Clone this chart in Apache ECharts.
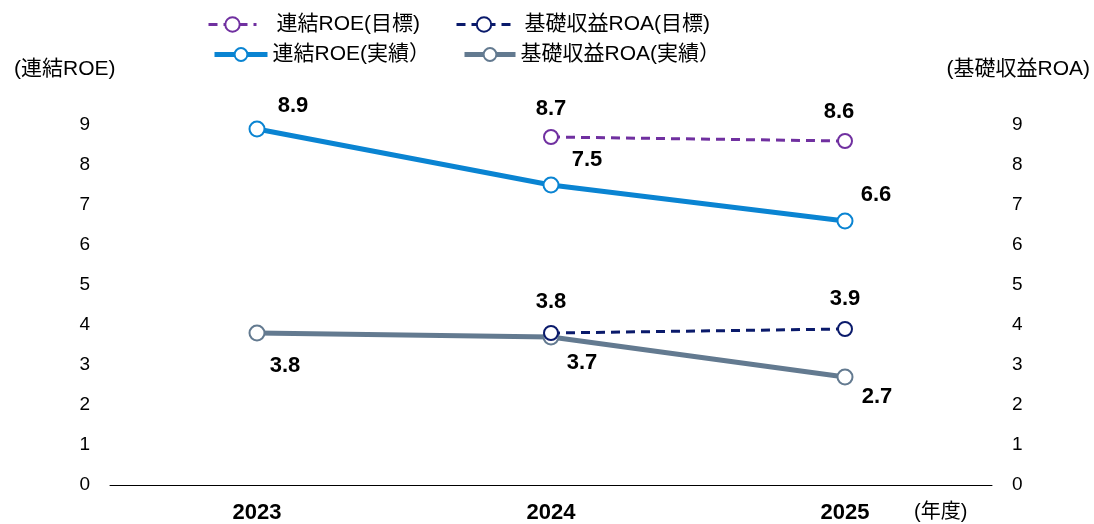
<!DOCTYPE html>
<html>
<head>
<meta charset="utf-8">
<script src="https://cdn.jsdelivr.net/npm/echarts@6/dist/echarts.min.js"></script>
<style>
html,body{margin:0;padding:0;background:#fff;}
#main{width:1094px;height:524px;}
</style>
</head>
<body>
<div id="main"></div>
<script>
const years = ['2023', '2024', '2025'];
const yTicks = [0, 1, 2, 3, 4, 5, 6, 7, 8, 9];
const roeTarget = [null, 8.7, 8.6];
const roaTarget = [null, 3.8, 3.9];
const roeActual = [8.9, 7.5, 6.6];
const roaActual = [3.8, 3.7, 2.7];
const names = ['連結ROE(目標)', '基礎収益ROA(目標)', '連結ROE(実績）', '基礎収益ROA(実績）'];

const FONT = "'Liberation Sans', 'Noto Sans CJK JP', sans-serif";
const C_PURPLE = '#7030A0', C_NAVY = '#0A1A6B', C_BLUE = '#0A84D2', C_GRAY = '#637A90';

const chart = echarts.init(document.getElementById('main'));
const lbl = (offset) => ({show: true, position: 'top', offset: offset, color: '#000', fontWeight: 'bold', fontSize: 22, fontFamily: FONT, formatter: p => p.value.toFixed(1)});
const mk = (arr, offs, pos) => arr.map((v, i) => v == null ? null : ({value: v, label: Object.assign(lbl(offs[i]), pos ? {position: pos} : {})}));

const TS = {fontSize: 21, fontFamily: FONT, color: '#000'};
const legendBase = {orient: 'horizontal', itemGap: 10, selectedMode: false};

chart.setOption({
  backgroundColor: '#fff',
  animation: false,
  textStyle: {fontFamily: FONT},
  legend: [
    Object.assign({}, legendBase, {data: [{name: names[0], lineStyle: {width: 3}, itemStyle: {borderWidth: 3}}], left: 202, top: 9, itemWidth: 48, itemHeight: 18, textStyle: Object.assign({}, TS, {padding: [0, 0, 0, 15]})}),
    Object.assign({}, legendBase, {data: [{name: names[1], lineStyle: {width: 3}, itemStyle: {borderWidth: 3}}], left: 450, top: 9, itemWidth: 55, itemHeight: 18, textStyle: Object.assign({}, TS, {padding: [0, 0, 0, 8]})}),
    Object.assign({}, legendBase, {data: [{name: names[2], lineStyle: {width: 5}}], left: 207, top: 39, itemWidth: 53, itemHeight: 16, textStyle: TS}),
    Object.assign({}, legendBase, {data: [{name: names[3], lineStyle: {width: 5}}], left: 457, top: 39, itemWidth: 51, itemHeight: 16, textStyle: TS})
  ],
  grid: {left: 110, right: 102, top: 125, bottom: 39},
  xAxis: {
    type: 'category', data: years, boundaryGap: true,
    axisLine: {lineStyle: {color: '#000', width: 1}},
    axisTick: {show: false},
    axisLabel: {fontSize: 22, fontWeight: 'bold', color: '#000', margin: 17, fontFamily: FONT}
  },
  yAxis: [
    {type: 'value', min: 0, max: 9, interval: 1, position: 'left',
     axisLine: {show: false}, axisTick: {show: false}, splitLine: {show: false},
     axisLabel: {fontSize: 19, color: '#000', margin: 20, fontFamily: FONT, formatter: v => yTicks.includes(v) ? String(v) : ''}},
    {type: 'value', min: 0, max: 9, interval: 1, position: 'right',
     axisLine: {show: false}, axisTick: {show: false}, splitLine: {show: false},
     axisLabel: {fontSize: 19, color: '#000', margin: 20, fontFamily: FONT, formatter: v => yTicks.includes(v) ? String(v) : ''}}
  ],
  graphic: [
    {type: 'text', left: 14, top: 59, style: {text: '(連結ROE)', fontSize: 21, fill: '#000', fontFamily: FONT}},
    {type: 'text', right: 4, top: 59, style: {text: '(基礎収益ROA)', fontSize: 21, fill: '#000', fontFamily: FONT}},
    {type: 'text', left: 914, top: 502, style: {text: '(年度)', fontSize: 20, fill: '#000', fontFamily: FONT}}
  ],
  series: [
    {name: names[0], type: 'line', yAxisIndex: 0, data: mk(roeTarget, [[0,0],[0,-4.5],[-6,-5.5]]),
     symbol: 'emptyCircle', symbolSize: 14, connectNulls: false,
     lineStyle: {color: C_PURPLE, width: 3, type: [9, 6]},
     itemStyle: {color: C_PURPLE, borderColor: C_PURPLE, borderWidth: 3.5}, z: 3},
    {name: names[1], type: 'line', yAxisIndex: 1, data: mk(roaTarget, [[0,0],[0,-7.5],[0,-6.5]]),
     symbol: 'emptyCircle', symbolSize: 14,
     lineStyle: {color: C_NAVY, width: 3, type: [9, 6]},
     itemStyle: {color: C_NAVY, borderColor: C_NAVY, borderWidth: 3.5}, z: 4},
    {name: names[2], type: 'line', yAxisIndex: 0, data: mk(roeActual, [[36,1],[36,-1],[31,-2]]),
     symbol: 'emptyCircle', symbolSize: 15,
     lineStyle: {color: C_BLUE, width: 5},
     itemStyle: {color: C_BLUE, borderColor: C_BLUE, borderWidth: 2}, z: 2},
    {name: names[3], type: 'line', yAxisIndex: 1, data: mk(roaActual, [[28,8.5],[31,1.5],[32,-4.5]], 'bottom'),
     symbol: 'emptyCircle', symbolSize: 15,
     lineStyle: {color: C_GRAY, width: 5},
     itemStyle: {color: C_GRAY, borderColor: C_GRAY, borderWidth: 2}, z: 2}
  ]
});
</script>
</body>
</html>
